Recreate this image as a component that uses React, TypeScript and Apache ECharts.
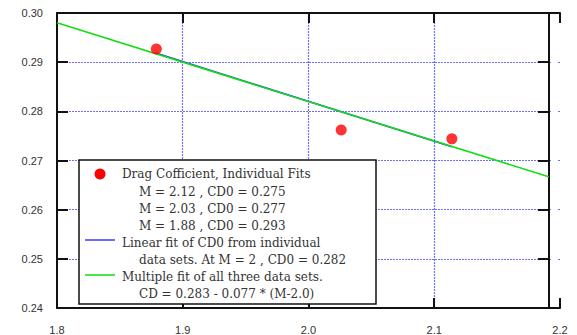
import React, { useEffect, useRef } from "react";
import * as echarts from "echarts";

const pointM = [1.879, 2.026, 2.114];
const pointCD = [0.2927, 0.2762, 0.2744];

const linearFitM = [1.878, 2.114];
const linearFitCD = [0.2919, 0.2728];

const multiFitM = [1.8, 2.191];
const multiFitCD = [0.298, 0.2667];

const legendLines = [
  "M = 2.12 , CD0 = 0.275",
  "M = 2.03 , CD0 = 0.277",
  "M = 1.88 , CD0 = 0.293",
];

const LEG_FONT = '12px "DejaVu Serif"';
const TXT = "#333";

export default function App() {
  const ref = useRef<HTMLDivElement>(null);
  useEffect(() => {
    if (!ref.current) return;
    const chart = echarts.init(ref.current, undefined, { renderer: "svg" });
    const grid = "#6f6fff";
    const axisLine = { show: true, lineStyle: { color: "#111", width: 2 } };
    const t = (text: string, x: number, y: number) => ({
      type: "text",
      x,
      y,
      z: 101,
      style: { text, font: LEG_FONT, fill: TXT, align: "left", verticalAlign: "middle" },
    });
    chart.setOption({
      animation: false,
      backgroundColor: "#fff",
      grid: { left: 57, right: 17, top: 13, bottom: 27, containLabel: false },
      xAxis: [
        {
          type: "value",
          min: 1.8,
          max: 2.2,
          interval: 0.1,
          position: "bottom",
          axisLine,
          axisTick: { show: true, inside: true, length: 10, lineStyle: { color: "#111", width: 2 } },
          axisLabel: {
            color: TXT,
            fontFamily: "Liberation Sans",
            fontSize: 11,
            margin: 16,
            formatter: (v: number) => v.toFixed(1),
          },
          splitLine: {
            show: true,
            showMinLine: false,
            showMaxLine: false,
            lineStyle: { color: grid, type: [2, 1], width: 1.2 },
          },
        },
        {
          type: "value",
          min: 1.8,
          max: 2.2,
          interval: 0.1,
          position: "top",
          axisLine,
          axisTick: { show: true, inside: true, length: 10, lineStyle: { color: "#111", width: 2 } },
          axisLabel: { show: false },
          splitLine: { show: false },
        },
      ],
      yAxis: [
        {
          type: "value",
          min: 0.24,
          max: 0.3,
          interval: 0.01,
          position: "left",
          axisLine,
          axisTick: { show: true, inside: true, length: 11, lineStyle: { color: "#111", width: 2 } },
          axisLabel: {
            color: TXT,
            fontFamily: "Liberation Sans",
            fontSize: 11,
            margin: 14,
            formatter: (v: number) => v.toFixed(2),
          },
          splitLine: {
            show: true,
            showMinLine: false,
            showMaxLine: false,
            lineStyle: { color: grid, type: [2, 1], width: 1.2 },
          },
        },
        {
          type: "value",
          min: 0.24,
          max: 0.3,
          interval: 0.01,
          position: "right",
          offset: -11,
          axisLine,
          axisTick: { show: true, inside: true, length: 11, lineStyle: { color: "#111", width: 2 } },
          axisLabel: { show: false },
          splitLine: { show: false },
        },
      ],
      series: [
        {
          type: "line",
          data: linearFitM.map((m, i) => [m, linearFitCD[i]]),
          symbol: "none",
          lineStyle: { color: "#3a3aff", width: 1.5 },
          z: 3,
        },
        {
          type: "line",
          data: multiFitM.map((m, i) => [m, multiFitCD[i]]),
          symbol: "none",
          lineStyle: { color: "#11dd11", width: 1.5 },
          z: 4,
        },
        {
          type: "scatter",
          data: pointM.map((m, i) => [m, pointCD[i]]),
          symbol: "circle",
          symbolSize: 11,
          itemStyle: { color: "#ff0000" },
          z: 5,
        },
      ],
      graphic: [
        {
          type: "rect",
          x: 551,
          y: 15,
          z: 1,
          shape: { width: 7, height: 291 },
          style: { fill: "#fff" },
        },
        {
          type: "rect",
          x: 79,
          y: 160,
          z: 100,
          shape: { width: 297, height: 144 },
          style: { fill: "#fff", stroke: "#111", lineWidth: 1.5 },
        },
        { type: "circle", x: 100, y: 174, z: 101, shape: { r: 5.5 }, style: { fill: "#ff0000" } },
        t("Drag Cofficient, Individual Fits", 122, 174),
        t(legendLines[0], 139, 192),
        t(legendLines[1], 139, 209),
        t(legendLines[2], 139, 226),
        {
          type: "line",
          z: 101,
          shape: { x1: 85, y1: 240, x2: 115, y2: 240 },
          style: { stroke: "#3a3aff", lineWidth: 1.5 },
        },
        t("Linear fit of CD0 from individual", 122, 243),
        t("data sets. At M = 2 , CD0 = 0.282", 139, 260),
        {
          type: "line",
          z: 101,
          shape: { x1: 85, y1: 275, x2: 115, y2: 275 },
          style: { stroke: "#11dd11", lineWidth: 1.5 },
        },
        t("Multiple fit of all three data sets.", 122, 277),
        t("CD = 0.283 - 0.077 * (M-2.0)", 139, 294),
      ],
    });
    return () => chart.dispose();
  }, []);
  return (
    <div
      ref={ref}
      style={{ position: "fixed", left: 0, top: 0, width: 577, height: 335 }}
    />
  );
}
